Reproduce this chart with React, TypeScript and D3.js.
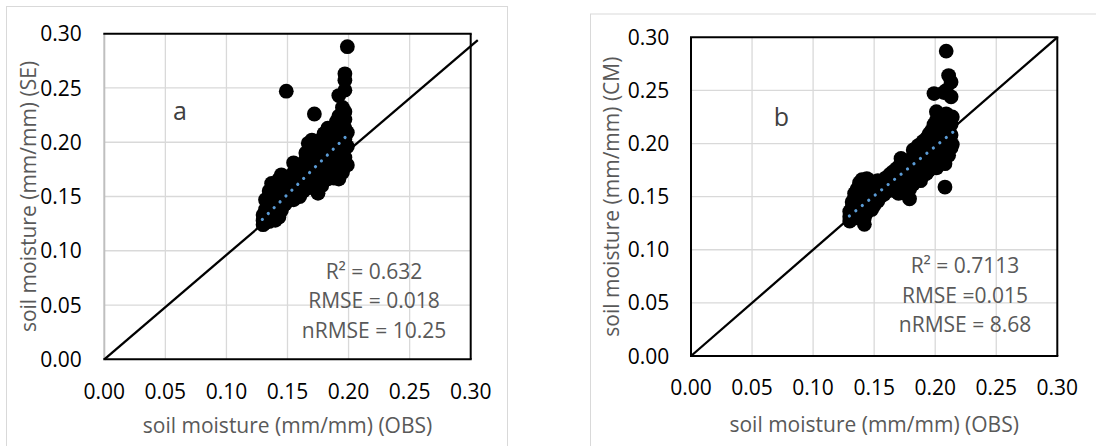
import React from "react";
import * as d3 from "d3";

// Soil moisture: simulated vs observed (mm/mm)
const tickValues = [0, 0.05, 0.1, 0.15, 0.2, 0.25, 0.3];

// Panel a: OBS vs SE
const obsA = [
  0.13, 0.13, 0.13, 0.132, 0.132, 0.132, 0.135, 0.135, 0.135, 0.135, 0.135,
  0.137, 0.137, 0.137, 0.14, 0.14, 0.14, 0.14, 0.14, 0.143, 0.143, 0.143, 0.143, 0.143,
  0.145, 0.145, 0.145, 0.148, 0.148, 0.148, 0.148, 0.149, 0.15, 0.15, 0.15,
  0.153, 0.153, 0.153, 0.153, 0.155, 0.155, 0.155, 0.155, 0.157, 0.157, 0.157,
  0.16, 0.16, 0.16, 0.16, 0.163, 0.163, 0.163, 0.163, 0.165, 0.165, 0.165, 0.165,
  0.167, 0.167, 0.167, 0.17, 0.17, 0.17, 0.17, 0.17, 0.17, 0.172, 0.172, 0.172, 0.172,
  0.175, 0.175, 0.175, 0.175, 0.175, 0.175, 0.178, 0.178, 0.178, 0.178, 0.178, 0.178,
  0.18, 0.18, 0.18, 0.18, 0.183, 0.183, 0.183, 0.183, 0.183, 0.183, 0.183,
  0.185, 0.185, 0.185, 0.185, 0.188, 0.188, 0.188, 0.188, 0.188, 0.188,
  0.19, 0.19, 0.19, 0.19, 0.19, 0.19, 0.192, 0.192, 0.192, 0.192, 0.192, 0.192,
  0.195, 0.195, 0.195, 0.195, 0.195, 0.195, 0.195, 0.195,
  0.197, 0.197, 0.197, 0.197, 0.197, 0.197, 0.197, 0.197, 0.197, 0.197,
  0.199, 0.199, 0.199, 0.199,
];
const simA = [
  0.124, 0.128, 0.133, 0.126, 0.138, 0.147, 0.127, 0.133, 0.14, 0.148, 0.155,
  0.131, 0.162, 0.15, 0.128, 0.135, 0.143, 0.152, 0.16, 0.131, 0.14, 0.148, 0.157, 0.166,
  0.17, 0.137, 0.152, 0.143, 0.15, 0.159, 0.167, 0.247, 0.146, 0.155, 0.163,
  0.148, 0.152, 0.16, 0.168, 0.147, 0.158, 0.172, 0.181, 0.15, 0.165, 0.176,
  0.15, 0.158, 0.167, 0.173, 0.155, 0.163, 0.171, 0.179, 0.16, 0.168, 0.184, 0.19,
  0.158, 0.175, 0.199, 0.163, 0.17, 0.178, 0.186, 0.194, 0.202, 0.226, 0.165, 0.182, 0.197,
  0.153, 0.163, 0.171, 0.18, 0.189, 0.198, 0.16, 0.168, 0.176, 0.185, 0.194, 0.203,
  0.165, 0.172, 0.19, 0.208, 0.166, 0.175, 0.184, 0.193, 0.202, 0.209, 0.213,
  0.17, 0.18, 0.198, 0.208, 0.167, 0.176, 0.186, 0.195, 0.205, 0.214,
  0.169, 0.182, 0.192, 0.2, 0.21, 0.219, 0.166, 0.175, 0.188, 0.204, 0.224, 0.243,
  0.172, 0.18, 0.19, 0.199, 0.208, 0.216, 0.225, 0.232,
  0.178, 0.186, 0.195, 0.203, 0.213, 0.221, 0.228, 0.248, 0.257, 0.263,
  0.179, 0.196, 0.209, 0.288,
];
// 1:1 reference line end points and linear trend [intercept, slope, xStart, xEnd]
const refLineA = [[0, 0], [0.3058, 0.2941]];
const trendA = [-0.0152, 1.114, 0.1294, 0.1985];
const statsA = ["R\u00b2 = 0.632", "RMSE = 0.018", "nRMSE = 10.25"];

// Panel b: OBS vs CM
const obsB = [
  0.13, 0.13, 0.13, 0.132, 0.132, 0.132, 0.134, 0.134, 0.134, 0.134,
  0.136, 0.136, 0.136, 0.138, 0.138, 0.138, 0.138, 0.14, 0.14, 0.14, 0.14, 0.14,
  0.142, 0.142, 0.142, 0.142, 0.142, 0.142, 0.144, 0.144, 0.144, 0.144,
  0.146, 0.146, 0.146, 0.146, 0.148, 0.148, 0.148, 0.148, 0.15, 0.15, 0.15, 0.15,
  0.153, 0.153, 0.153, 0.153, 0.155, 0.155, 0.155, 0.158, 0.158, 0.158,
  0.16, 0.16, 0.16, 0.163, 0.163, 0.163, 0.165, 0.165, 0.165,
  0.168, 0.168, 0.168, 0.168, 0.17, 0.17, 0.17, 0.17, 0.17,
  0.172, 0.172, 0.172, 0.172, 0.175, 0.175, 0.175, 0.175,
  0.177, 0.177, 0.177, 0.177, 0.177, 0.179, 0.179, 0.179, 0.179, 0.179,
  0.182, 0.182, 0.182, 0.182, 0.182, 0.184, 0.184, 0.184, 0.184,
  0.186, 0.186, 0.186, 0.186, 0.186, 0.188, 0.188, 0.188, 0.188, 0.188,
  0.19, 0.19, 0.19, 0.19, 0.19, 0.193, 0.193, 0.193, 0.193, 0.193,
  0.195, 0.195, 0.195, 0.195, 0.195, 0.197, 0.197, 0.197, 0.197, 0.197,
  0.199, 0.199, 0.199, 0.199, 0.199, 0.199,
  0.201, 0.201, 0.201, 0.201, 0.201, 0.201, 0.201,
  0.203, 0.203, 0.203, 0.203, 0.203, 0.203, 0.205, 0.205, 0.205, 0.205, 0.205, 0.205,
  0.207, 0.207, 0.207, 0.207, 0.207, 0.207, 0.208, 0.208,
  0.209, 0.209, 0.209, 0.209, 0.209, 0.209, 0.209,
  0.211, 0.211, 0.211, 0.211, 0.211, 0.213, 0.213, 0.213, 0.213, 0.213, 0.214, 0.214,
];
const simB = [
  0.127, 0.131, 0.136, 0.129, 0.14, 0.145, 0.132, 0.138, 0.149, 0.153,
  0.13, 0.143, 0.157, 0.134, 0.148, 0.16, 0.163, 0.131, 0.137, 0.145, 0.153, 0.166,
  0.124, 0.13, 0.141, 0.15, 0.158, 0.163, 0.135, 0.146, 0.155, 0.167,
  0.141, 0.15, 0.16, 0.165, 0.138, 0.145, 0.154, 0.162, 0.142, 0.149, 0.157, 0.164,
  0.146, 0.152, 0.16, 0.165, 0.15, 0.157, 0.163, 0.152, 0.16, 0.166,
  0.155, 0.162, 0.168, 0.156, 0.163, 0.171, 0.158, 0.166, 0.173,
  0.155, 0.162, 0.169, 0.176, 0.153, 0.16, 0.167, 0.174, 0.178,
  0.158, 0.171, 0.181, 0.186, 0.156, 0.163, 0.172, 0.18,
  0.152, 0.16, 0.168, 0.176, 0.184, 0.148, 0.157, 0.166, 0.175, 0.183,
  0.162, 0.17, 0.178, 0.187, 0.194, 0.166, 0.174, 0.183, 0.19,
  0.169, 0.178, 0.186, 0.195, 0.198, 0.165, 0.172, 0.181, 0.19, 0.197,
  0.17, 0.177, 0.185, 0.193, 0.202, 0.172, 0.18, 0.189, 0.197, 0.205,
  0.175, 0.184, 0.192, 0.2, 0.209, 0.178, 0.187, 0.196, 0.204, 0.212,
  0.18, 0.19, 0.2, 0.208, 0.218, 0.247,
  0.177, 0.186, 0.195, 0.203, 0.213, 0.222, 0.23,
  0.185, 0.192, 0.2, 0.21, 0.22, 0.227, 0.183, 0.19, 0.198, 0.206, 0.216, 0.224,
  0.188, 0.196, 0.205, 0.214, 0.222, 0.248, 0.159, 0.181,
  0.287, 0.192, 0.201, 0.21, 0.219, 0.228, 0.25,
  0.189, 0.204, 0.214, 0.226, 0.264, 0.196, 0.208, 0.218, 0.258, 0.244, 0.199, 0.225,
];
const refLineB = [[0, 0], [0.3, 0.3]];
const trendB = [0.0112, 0.93, 0.1297, 0.2148];
const statsB = ["R\u00b2 = 0.7113", "RMSE =0.015", "nRMSE = 8.68"];

const FONT = "'Open Sans', sans-serif";
const FS = 21;
const GRAY_TEXT = "#595959";
const GRID = "#d9d9d9";

type PanelProps = {
  obs: number[];
  sim: number[];
  refLine: number[][];
  trend: number[];
  stats: string[];
  letter: string;
  yTitle: string;
  frame: { x: number; y: number; w: number; h: number };
  plot: { l: number; r: number; t: number; b: number };
  yTickRight: number;
  xTickBase: number;
  xTitleY: number;
  yTitleX: number;
  letterPos: [number, number];
  statsPos: [number, number, number];
  leftEdge: string;
};

function Panel(p: PanelProps) {
  const x = d3.scaleLinear().domain([0, 0.3]).range([p.plot.l, p.plot.r]);
  const y = d3.scaleLinear().domain([0, 0.3]).range([p.plot.b, p.plot.t]);
  const line = d3
    .line<number[]>()
    .x((d) => x(d[0]))
    .y((d) => y(d[1]));
  const [b0, b1, t0, t1] = p.trend;
  const trendPts = [
    [t0, b0 + b1 * t0],
    [t1, b0 + b1 * t1],
  ];
  const cx = (p.plot.l + p.plot.r) / 2;
  const cy = (p.plot.t + p.plot.b) / 2;
  const fmt = d3.format(".2f");
  return (
    <g>
      <rect
        x={p.frame.x + 0.5}
        y={p.frame.y + 0.5}
        width={p.frame.w}
        height={p.frame.h}
        fill="#fff"
        stroke="#d9d9d9"
        strokeWidth={1}
      />
      {/* gridlines */}
      {tickValues.slice(1, -1).map((v) => (
        <g key={"g" + v}>
          <line x1={x(v)} x2={x(v)} y1={p.plot.t} y2={p.plot.b} stroke={GRID} strokeWidth={1.3} />
          <line x1={p.plot.l} x2={p.plot.r} y1={y(v)} y2={y(v)} stroke={GRID} strokeWidth={1.3} />
        </g>
      ))}
      {/* plot border */}
      <line x1={p.plot.l} x2={p.plot.l} y1={p.plot.t} y2={p.plot.b} stroke={p.leftEdge} strokeWidth={2} />
      <line x1={p.plot.l - 1} x2={p.plot.r + 1} y1={p.plot.t} y2={p.plot.t} stroke="#000" strokeWidth={2} />
      <line x1={p.plot.r} x2={p.plot.r} y1={p.plot.t} y2={p.plot.b} stroke="#000" strokeWidth={2} />
      <line x1={p.plot.l - 1} x2={p.plot.r + 1} y1={p.plot.b} y2={p.plot.b} stroke="#000" strokeWidth={2} />
      {/* 1:1 line */}
      <path d={line(p.refLine) || ""} stroke="#000" strokeWidth={2.3} fill="none" />
      {/* points */}
      {p.obs.map((o, i) => (
        <circle key={i} cx={x(o)} cy={y(p.sim[i])} r={7.4} fill="#000" />
      ))}
      {/* linear trend */}
      <path
        d={line(trendPts) || ""}
        stroke="#5b9bd5"
        strokeWidth={3.2}
        strokeDasharray="0.01 8.3"
        strokeLinecap="round"
        fill="none"
      />
      {/* tick labels */}
      {tickValues.map((v) => (
        <text
          key={"y" + v}
          x={p.yTickRight}
          y={y(v)}
          dy="0.36em"
          textAnchor="end"
          fontFamily={FONT}
          fontSize={FS}
          fill="#000"
        >
          {fmt(v)}
        </text>
      ))}
      {tickValues.map((v) => (
        <text
          key={"x" + v}
          x={x(v)}
          y={p.xTickBase}
          textAnchor="middle"
          fontFamily={FONT}
          fontSize={FS}
          fill="#000"
        >
          {fmt(v)}
        </text>
      ))}
      {/* axis titles */}
      <text x={cx} y={p.xTitleY} textAnchor="middle" fontFamily={FONT} fontSize={FS} fill={GRAY_TEXT}>
        soil moisture (mm/mm) (OBS)
      </text>
      <text
        transform={`translate(${p.yTitleX},${cy}) rotate(-90)`}
        textAnchor="middle"
        dy="0.36em"
        fontFamily={FONT}
        fontSize={FS}
        fill={GRAY_TEXT}
      >
        {p.yTitle}
      </text>
      {/* panel letter */}
      <text x={p.letterPos[0]} y={p.letterPos[1]} textAnchor="middle" fontFamily={FONT} fontSize={25} fill="#404040">
        {p.letter}
      </text>
      {/* statistics */}
      {p.stats.map((s, i) => (
        <text
          key={s}
          x={p.statsPos[0]}
          y={p.statsPos[1] + i * p.statsPos[2]}
          textAnchor="middle"
          fontFamily={FONT}
          fontSize={FS}
          fill={GRAY_TEXT}
        >
          {s}
        </text>
      ))}
    </g>
  );
}

export default function App() {
  return (
    <svg
      width={1096}
      height={446}
      style={{ position: "absolute", left: 0, top: 0, background: "#fff" }}
    >
      <rect width={1096} height={446} fill="#fff" />
      <Panel
        obs={obsA}
        sim={simA}
        refLine={refLineA}
        trend={trendA}
        stats={statsA}
        letter="a"
        yTitle="soil moisture (mm/mm) (SE)"
        frame={{ x: 6, y: 6, w: 501, h: 460 }}
        plot={{ l: 104.3, r: 470.7, t: 33.7, b: 359.3 }}
        yTickRight={81.7}
        xTickBase={399}
        xTitleY={432.5}
        yTitleX={28}
        letterPos={[180, 120]}
        statsPos={[374, 279, 29.3]}
        leftEdge="#bfbfbf"
      />
      <Panel
        obs={obsB}
        sim={simB}
        refLine={refLineB}
        trend={trendB}
        stats={statsB}
        letter="b"
        yTitle="soil moisture (mm/mm) (CM)"
        frame={{ x: 590, y: 13.5, w: 520, h: 460 }}
        plot={{ l: 691, r: 1057.3, t: 37.3, b: 356 }}
        yTickRight={669.3}
        xTickBase={395}
        xTitleY={431.5}
        yTitleX={611.7}
        letterPos={[781.3, 126]}
        statsPos={[965, 273.3, 29.2]}
        leftEdge="#000"
      />
    </svg>
  );
}
